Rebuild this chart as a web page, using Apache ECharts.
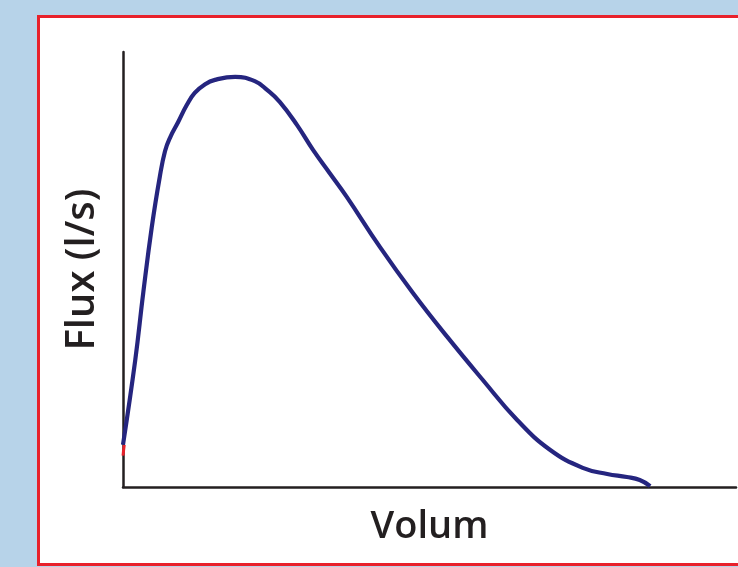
<!DOCTYPE html>
<html>
<head>
<meta charset="utf-8">
<script src="https://cdn.jsdelivr.net/npm/echarts@6/dist/echarts.min.js"></script>
<style>html,body{margin:0;padding:0;background:#b7d3e9;}#c{width:738px;height:567px;}</style>
</head>
<body>
<div id="c"></div>
<script>
// Volume (arbitrary units, 0-10) and flow (arbitrary units, 0-10)
var volume = [0, 0.20, 0.33, 0.47, 0.60, 0.685, 0.77, 0.90, 1.04, 1.17, 1.34, 1.50, 1.83, 2.15, 2.35, 2.56, 2.84, 3.10, 3.37, 3.65, 4.19, 4.73, 5.29, 5.87, 6.43, 6.97, 7.50, 7.90, 8.22, 8.43, 8.60];
var flux   = [0.97, 2.92, 4.46, 5.98, 7.13, 7.72, 8.04, 8.39, 8.78, 9.06, 9.26, 9.36, 9.43, 9.33, 9.13, 8.85, 8.32, 7.75, 7.22, 6.67, 5.52, 4.46, 3.45, 2.46, 1.54, 0.85, 0.44, 0.30, 0.23, 0.16, 0.02];
var startVolume = [0, 0.02];
var startFlux = [0.72, 0.97];
var xTitle = 'Volum';
var yTitle = 'Flux (l/s)';

var curve = volume.map(function (v, i) { return [v, flux[i]]; });
var start = startVolume.map(function (v, i) { return [v, startFlux[i]]; });

var chart = echarts.init(document.getElementById('c'), null, {renderer: 'canvas'});
var axisFont = {fontFamily: 'Open Sans', fontSize: 38, fontWeight: 600, color: '#231f20'};
chart.setOption({
  backgroundColor: '#b7d3e9',
  animation: false,
  graphic: [{
    type: 'rect', z: -10, silent: true,
    shape: {x: 38.5, y: 16.5, width: 760, height: 548},
    style: {fill: '#ffffff', stroke: '#e8212b', lineWidth: 3}
  }],
  grid: {left: 123, top: 52, right: 2, bottom: 80},
  xAxis: {
    type: 'value', min: 0, max: 10,
    name: xTitle, nameLocation: 'middle', nameGap: 21,
    nameTextStyle: axisFont,
    axisLine: {show: true, onZero: false, lineStyle: {color: '#231f20', width: 2.5}},
    axisTick: {show: false}, axisLabel: {show: false}, splitLine: {show: false}
  },
  yAxis: {
    type: 'value', min: 0, max: 10,
    name: yTitle, nameLocation: 'middle', nameGap: 20, nameRotate: 90,
    nameTextStyle: {fontFamily: 'Open Sans', fontSize: 40, fontWeight: 600, color: '#231f20'},
    axisLine: {show: true, onZero: false, lineStyle: {color: '#231f20', width: 2.5}},
    axisTick: {show: false}, axisLabel: {show: false}, splitLine: {show: false}
  },
  series: [{
    type: 'line', data: curve, smooth: 0.45, showSymbol: false,
    lineStyle: {color: '#25257f', width: 4.2}, z: 3
  }, {
    type: 'line', data: start, showSymbol: false,
    lineStyle: {color: '#e8212b', width: 3}, z: 2
  }]
});
</script>
</body>
</html>
